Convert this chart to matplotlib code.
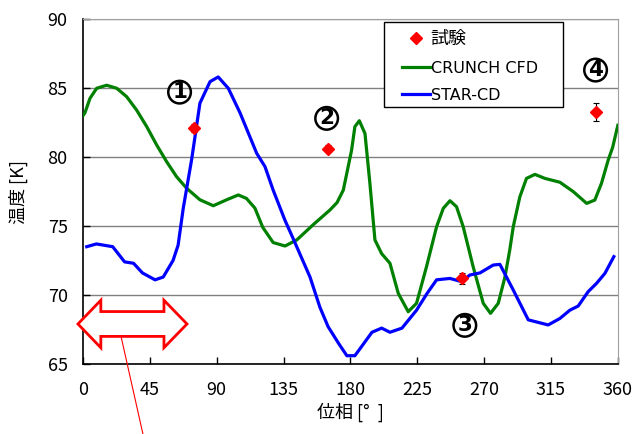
import numpy as np
import matplotlib
matplotlib.use("Agg")
import matplotlib.pyplot as plt
from matplotlib.patches import Polygon, Rectangle
from matplotlib.lines import Line2D

plt.rcParams['font.family'] = ['Noto Sans CJK JP', 'DejaVu Sans']

# CRUNCH CFD (green)
crunch_phase = [0, 1.3, 4.7, 9.2, 15.9, 22.7, 29.4, 36.1, 42.9, 49.6, 56.3, 63, 69.8,
                78.7, 87.7, 96.7, 104.5, 110, 115.7, 121, 128, 136, 144, 155, 166.2,
                171, 175.2, 180.8, 183, 186, 189.8, 193.1, 196.5, 201, 206.6, 212.2,
                218.9, 224.5, 231.2, 238, 242.5, 247, 251.4, 255.9, 262.6, 269.4,
                274.3, 279.5, 284, 287.3, 289.6, 294, 298.5, 304.2, 310.9, 321, 330,
                339, 344.5, 349, 353.5, 356.5, 360]
crunch_temp = [83.0, 83.2, 84.25, 84.98, 85.2, 84.98, 84.37, 83.4, 82.2, 80.87, 79.66,
               78.57, 77.73, 76.9, 76.47, 76.9, 77.25, 77.0, 76.3, 74.9, 73.8, 73.55,
               74.0, 75.1, 76.16, 76.7, 77.6, 80.5, 82.2, 82.63, 81.7, 78.1, 73.99,
               73.0, 72.3, 70.12, 68.79, 69.4, 72.05, 74.95, 76.28, 76.83, 76.4,
               74.95, 72.05, 69.4, 68.67, 69.4, 71.3, 73.3, 74.95, 77.1, 78.45, 78.74,
               78.45, 78.17, 77.49, 76.64, 76.88, 78.1, 79.78, 80.7, 82.3]

# STAR-CD (blue)
star_phase = [2.5, 9, 20, 28, 34, 40, 48.5, 54, 60.6, 64, 67.5, 73.1, 78.7, 85.5, 91,
              97.8, 105.7, 116.9, 122.5, 128, 136, 141, 152.8, 159.5, 165, 172, 177.6,
              183, 194.5, 201, 206.6, 214.7, 224.5, 231.5, 238, 247, 254.8, 260.4,
              267.2, 276.1, 280.6, 289.6, 299.7, 313.1, 321, 327.7, 333.3, 340, 345.7,
              351.3, 357.3]
star_temp = [73.5, 73.7, 73.5, 72.4, 72.3, 71.6, 71.1, 71.3, 72.5, 73.6, 76.3, 79.8,
             83.9, 85.46, 85.8, 84.98, 83.2, 80.27, 79.3, 77.6, 75.4, 74.2, 71.3, 69.1,
             67.7, 66.5, 65.6, 65.6, 67.3, 67.6, 67.3, 67.6, 68.9, 70.1, 71.1, 71.2,
             70.97, 71.45, 71.6, 72.17, 72.22, 70.36, 68.2, 67.83, 68.3, 68.9, 69.2,
             70.24, 70.85, 71.57, 72.78]

# Test data (試験)
test_phase = [74.5, 165, 255, 345]
test_temp = [82.1, 80.6, 71.2, 83.25]
test_err = [0.3, 0.25, 0.4, 0.65]

marker_labels = ["1", "2", "3", "4"]
marker_pos = [(65, 84.7), (164, 82.8), (257, 67.8), (345, 86.3)]

x_ticks = [0, 45, 90, 135, 180, 225, 270, 315, 360]
y_ticks = [65, 70, 75, 80, 85, 90]

GREEN = "#008000"
BLUE = "#0000ff"

fig = plt.figure(figsize=(6.35, 4.34), dpi=100)
ax = fig.add_axes([0.1307, 0.1613, 0.8423, 0.7949])

ax.plot(crunch_phase, crunch_temp, color=GREEN, lw=2.3, zorder=3)
ax.plot(star_phase, star_temp, color=BLUE, lw=2.3, zorder=3)
ax.errorbar(test_phase, test_temp, yerr=test_err, fmt="D", color="red", ms=6.3,
            ecolor="black", elinewidth=0.8, capsize=2.5, capthick=0.8, zorder=4)

# circled numbers
for lab, (px, py) in zip(marker_labels, marker_pos):
    ax.text(px, py, lab, fontsize=15.5, ha="center", va="center", fontweight="bold",
            family="DejaVu Sans",
            bbox=dict(boxstyle="circle,pad=0.06", facecolor="none", edgecolor="black", lw=1.8))

# hollow double arrow
arr_x0, arr_x1, arr_hx0, arr_hx1 = -3.4, 70, 12, 54.5
arr_y, arr_half_shaft, arr_half_head = 67.9, 0.9, 1.72
arrow_pts = [(arr_x0, arr_y), (arr_hx0, arr_y + arr_half_head), (arr_hx0, arr_y + arr_half_shaft),
             (arr_hx1, arr_y + arr_half_shaft), (arr_hx1, arr_y + arr_half_head), (arr_x1, arr_y),
             (arr_hx1, arr_y - arr_half_head), (arr_hx1, arr_y - arr_half_shaft),
             (arr_hx0, arr_y - arr_half_shaft), (arr_hx0, arr_y - arr_half_head)]
ax.add_patch(Polygon(arrow_pts, closed=True, facecolor="white", edgecolor="red",
                     lw=2, clip_on=False, zorder=5))
ax.plot([25.6, 40.4], [67.0, 59.9], color="red", lw=0.8, clip_on=False, zorder=5)

ax.set_xlim(0, 360)
ax.set_ylim(65, 90)
ax.set_xticks(x_ticks)
ax.set_yticks(y_ticks)
ax.tick_params(direction="in", length=5, width=1, labelsize=13, color="black")
ax.tick_params(axis="x", pad=12)
ax.tick_params(axis="y", pad=11)
ax.grid(axis="y", color="#808080", lw=1)
ax.set_axisbelow(True)
for s in ["top", "right"]:
    ax.spines[s].set_color("#a0a0a0")
for s in ["left", "bottom"]:
    ax.spines[s].set_color("black")
    ax.spines[s].set_linewidth(1.2)

ax.set_xlabel("位相 [°  ]", fontsize=13, labelpad=3)
ax.set_ylabel("温度 [K]", fontsize=13, labelpad=14)

# legend: frame drawn separately, entries placed inside it
ax.add_patch(Rectangle((0.5626, 0.745), 0.3346, 0.246, transform=ax.transAxes,
                       facecolor="white", edgecolor="black", lw=1, zorder=6))
handles = [Line2D([], [], ls="none", marker="D", color="red", ms=6.3),
           Line2D([], [], color=GREEN, lw=2.3),
           Line2D([], [], color=BLUE, lw=2.3)]
labels = ["試験", "CRUNCH CFD", "STAR-CD"]
leg = ax.legend(handles, labels, loc="upper left", bbox_to_anchor=(0.596, 0.968),
                frameon=False, borderpad=0, borderaxespad=0, handlelength=1.75,
                handletextpad=0.05, labelspacing=0.78,
                prop={"family": ["DejaVu Sans", "Noto Sans CJK JP"], "size": 11.5})
leg.get_texts()[0].set_fontsize(13)
leg.set_zorder(7)

fig.savefig("out.png", dpi=100)
